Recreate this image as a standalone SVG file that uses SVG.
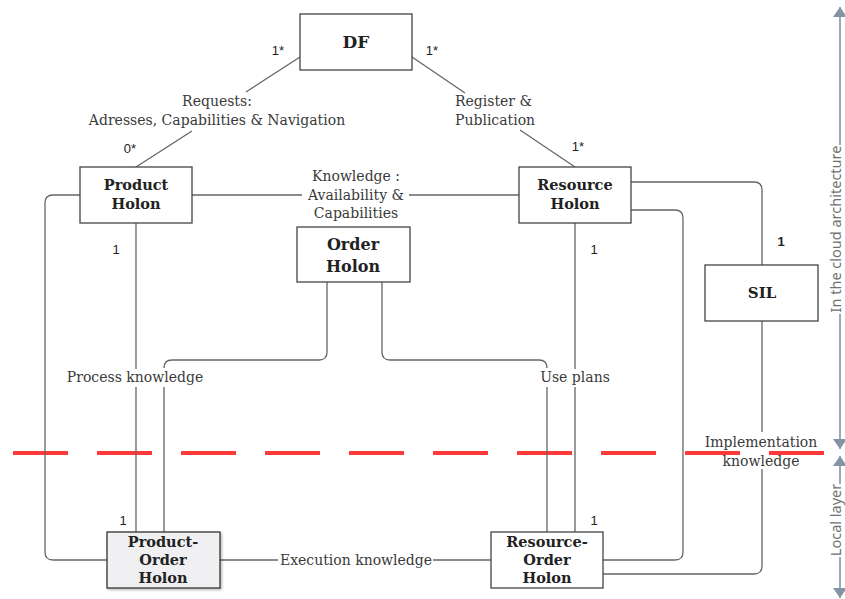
<svg xmlns="http://www.w3.org/2000/svg" width="845" height="599" viewBox="0 0 845 599">
<defs>
<style>
.box{fill:#fff;stroke:#444;stroke-width:1.3}
.ln{fill:none;stroke:#666;stroke-width:1.3}
.nl{font-family:"DejaVu Serif",serif;font-weight:bold;fill:#222;text-anchor:middle}
.lb{font-family:"DejaVu Serif",serif;font-size:14px;fill:#3a3a3a;text-anchor:middle}
.mu{font-family:"Liberation Sans",Arial,sans-serif;font-size:13px;fill:#222;text-anchor:middle}
.ax{fill:none;stroke:#8494a4;stroke-width:1.6}
.at{font-family:"Noto Sans",sans-serif;font-size:14.5px;fill:#707070;text-anchor:middle}
</style>
<marker id="ah" viewBox="0 0 10 14" refX="10" refY="7" markerWidth="10" markerHeight="14" markerUnits="userSpaceOnUse" orient="auto">
<path d="M0,0 L10,7 L0,14 Z" fill="#8494a4"/>
</marker>
<filter id="sh" x="-10%" y="-10%" width="130%" height="130%">
<feDropShadow dx="1.5" dy="1.5" stdDeviation="1" flood-color="#000" flood-opacity="0.25"/>
</filter>
</defs>
<rect width="845" height="599" fill="#fff"/>

<g id="layer-divider">
<line x1="13" y1="453" x2="825" y2="453" stroke="#ff3838" stroke-width="4" stroke-dasharray="55 29"/>
</g>

<g id="connectors">
<path class="ln" d="M300,57 L246,92 M192,131 L136,167"/>
<path class="ln" d="M412,57 L465,93 M520,130 L575,167"/>
<path class="ln" d="M192,195 H302 M409,195 H519"/>
<path class="ln" d="M80,195 H53 Q45,195 45,203 V552 Q45,560 53,560 H107"/>
<path class="ln" d="M136,223 V369 M136,387 V532"/>
<path class="ln" d="M327,282 V352 Q327,360 319,360 H172 Q164,360 164,368 M164,387 V532"/>
<path class="ln" d="M382,282 V352 Q382,360 390,360 H539 Q547,360 547,368 M547,387 V532"/>
<path class="ln" d="M575,223 V369 M575,387 V532"/>
<path class="ln" d="M631,210 H675 Q683,210 683,218 V552 Q683,560 675,560 H603"/>
<path class="ln" d="M631,182 H754 Q762,182 762,190 V265"/>
<path class="ln" d="M762,321 V432 M762,469 V566 Q762,574 754,574 H603"/>
<path class="ln" d="M220,560 H278 M433,560 H491"/>
<text class="lb" x="217" y="106">Requests:</text>
<text class="lb" x="217" y="125">Adresses, Capabilities &amp; Navigation</text>
<text class="lb" x="455" y="106" style="text-anchor:start">Register &amp;</text>
<text class="lb" x="455" y="125" style="text-anchor:start">Publication</text>
<text class="lb" x="356" y="181">Knowledge :</text>
<text class="lb" x="356" y="200">Availability &amp;</text>
<text class="lb" x="356" y="218">Capabilities</text>
<text class="lb" x="135" y="382">Process knowledge</text>
<text class="lb" x="575" y="382">Use plans</text>
<text class="lb" x="356" y="565">Execution knowledge</text>
<text class="lb" x="761" y="447">Implementation</text>
<text class="lb" x="761" y="466">knowledge</text>
<text class="mu" x="278" y="55">1*</text>
<text class="mu" x="432" y="55">1*</text>
<text class="mu" x="130" y="153">0*</text>
<text class="mu" x="578" y="151">1*</text>
<text class="mu" x="116" y="254">1</text>
<text class="mu" x="594" y="254">1</text>
<text class="mu" x="781" y="246" style="font-weight:bold">1</text>
<text class="mu" x="123" y="525">1</text>
<text class="mu" x="594" y="525">1</text>
</g>

<g id="DF">
<rect class="box" x="300" y="14" width="112" height="56"/>
<text class="nl" x="356" y="48" font-size="17">DF</text>
</g>
<g id="product-holon">
<rect class="box" x="80" y="167" width="112" height="56"/>
<text class="nl" x="136" y="190" font-size="14.5">Product</text>
<text class="nl" x="136" y="209" font-size="14.5">Holon</text>
</g>
<g id="resource-holon">
<rect class="box" x="519" y="167" width="112" height="56"/>
<text class="nl" x="575" y="190" font-size="14.5">Resource</text>
<text class="nl" x="575" y="209" font-size="14.5">Holon</text>
</g>
<g id="order-holon">
<rect class="box" x="297" y="227" width="113" height="55"/>
<text class="nl" x="353" y="250" font-size="16">Order</text>
<text class="nl" x="353" y="272" font-size="16">Holon</text>
</g>
<g id="SIL">
<rect class="box" x="705" y="265" width="113" height="56"/>
<text class="nl" x="762" y="298" font-size="15">SIL</text>
</g>
<g id="product-order-holon">
<rect class="box" x="107" y="532" width="113" height="56" style="fill:#f0f0f2;stroke:#333" filter="url(#sh)"/>
<text class="nl" x="163" y="547" font-size="14.5">Product-</text>
<text class="nl" x="163" y="565" font-size="14.5">Order</text>
<text class="nl" x="163" y="583" font-size="14.5">Holon</text>
</g>
<g id="resource-order-holon">
<rect class="box" x="491" y="532" width="112" height="56"/>
<text class="nl" x="547" y="547" font-size="14.5">Resource-</text>
<text class="nl" x="547" y="565" font-size="14.5">Order</text>
<text class="nl" x="547" y="583" font-size="14.5">Holon</text>
</g>

<g id="layer-axis">
<line class="ax" x1="840" y1="145" x2="840" y2="7" marker-end="url(#ah)"/>
<line class="ax" x1="840" y1="314" x2="840" y2="449" marker-end="url(#ah)"/>
<line class="ax" x1="840" y1="484" x2="840" y2="456" marker-end="url(#ah)"/>
<line class="ax" x1="840" y1="557" x2="840" y2="598" marker-end="url(#ah)"/>
<text class="at" transform="translate(841,229) rotate(-90)">In the cloud architecture</text>
<text class="at" transform="translate(841,520) rotate(-90)">Local layer</text>
</g>
</svg>
